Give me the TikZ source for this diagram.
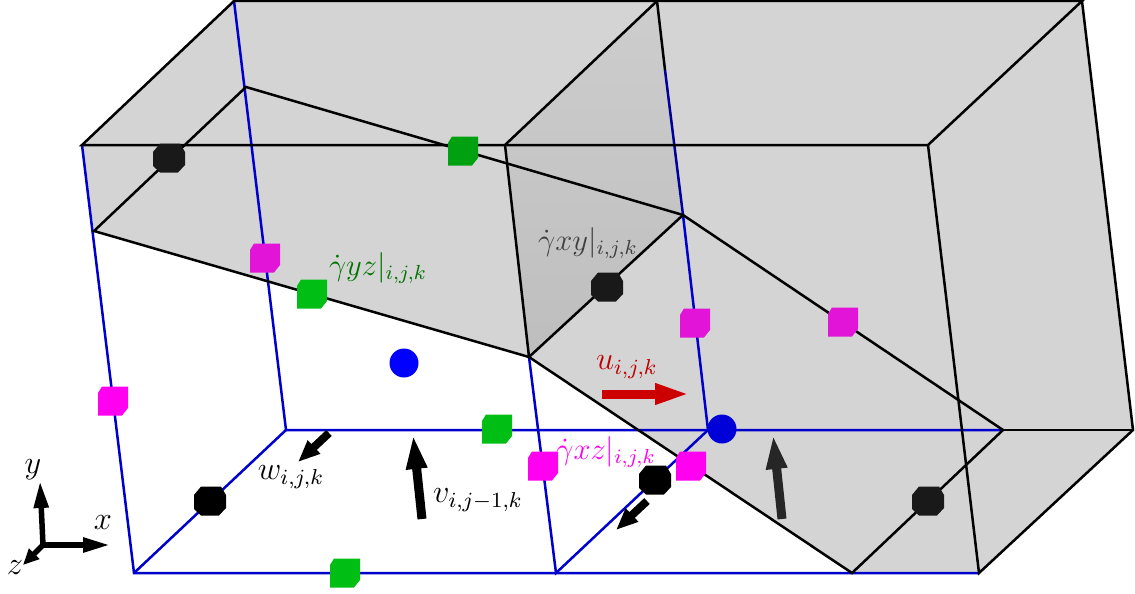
\documentclass[tikz,border=0pt]{standalone}
\usepackage{amsmath}
\usetikzlibrary{arrows.meta}
\tikzset{
  px/.style={x=1pt,y=-1pt},
  bl/.style={draw=blue!80!black,line width=2.5pt},
  bk/.style={draw=black,line width=2.5pt},
  vec/.style={line width=9pt,-{Triangle[length=35pt,width=19pt]}},
  small vec/.style={line width=8pt,-{Triangle[length=22pt,width=17pt]}},
  axis vec/.style={line width=5.5pt,-{Triangle[length=27pt,width=14pt]}},
  lab/.style={inner sep=0pt,font=\large,scale=2.7},
  glab/.style={inner sep=0pt,font=\large,scale=2.55},
  dot/.style={circle,minimum size=29pt,inner sep=0pt,draw=none}
}
\newcommand{\hexmark}[3]{\coordinate (#1) at #2;
  \fill[#3,shift={(#1)}] (-9,-14.5)--(11,-14.5)--(16,-6)--(16,7)--(9,14.5)--(-9,14.5)--(-16,8)--(-16,-6)--cycle;}
\newcommand{\sqmark}[3]{\coordinate (#1) at #2;
  \fill[#3,shift={(#1)}] (-11,-14.5)--(15,-14.5)--(15,7)--(9,14.5)--(-15,14.5)--(-15,-8)--cycle;}
\definecolor{gf}{RGB}{212,212,212}
\definecolor{gdt}{RGB}{205,205,205}
\definecolor{gdb}{RGB}{190,190,190}
\definecolor{mg}{RGB}{255,0,240}
\definecolor{mgd}{RGB}{225,20,215}
\definecolor{gn}{RGB}{0,190,20}
\begin{document}
\begin{tikzpicture}[px]
\useasboundingbox (0,0) rectangle (1135,594);
\fill[white] (0,0) rectangle (1135,594);
% corners
\coordinate (ftl) at (82,145); \coordinate (ftm) at (505,145); \coordinate (ftr) at (928,145);
\coordinate (btl) at (234,1); \coordinate (btm) at (657,1); \coordinate (btr) at (1082,1);
\coordinate (fbl) at (134,573); \coordinate (fbm) at (556,573); \coordinate (fbr) at (979,573);
\coordinate (bbl) at (286,430); \coordinate (bbm) at (708,430); \coordinate (bbr) at (1133,430);
\coordinate (s1) at (94,231); \coordinate (s2) at (529,357); \coordinate (s3) at (852,573);
\coordinate (t1) at (246,87); \coordinate (t2) at (683,215); \coordinate (t3) at (1003,430);
\coordinate (bm1) at (665,70);
% fills
\fill[gf] (ftl)--(btl)--(btr)--(bbr)--(fbr)--(s3)--(s2)--(s1)--cycle;
\shade[top color=gdt,bottom color=gdb] (ftm)--(btm)--(t2)--(s2)--cycle;
% blue
\draw[bl] (ftl)--(fbl)--(fbr);
\draw[bl] (btl)--(bbl)--(t3);
\draw[bl] (fbl)--(bbl);
\draw[bl] (s2)--(fbm)--(bbm);
\draw[bl] (t2)--(bbm);
\draw[bl,draw=blue!60!black] (bm1)--(t2);
% black
\draw[bk] (ftl)--(ftr)--(btr)--(btl)--cycle;
\draw[bk] (ftm)--(btm)--(bm1);
\draw[bk] (ftm)--(s2);
\draw[bk] (ftr)--(fbr)--(bbr)--(btr);
\draw[bk] (t3)--(bbr);
\draw[bk] (s1)--(s2)--(s3)--(t3)--(t2)--(t1)--cycle;
\draw[bk] (s2)--(t2);
% markers
\hexmark{m1}{(169,158)}{black!90}
\hexmark{m2}{(210,501)}{black}
\hexmark{m3}{(607,287)}{black!90}
\hexmark{m4}{(655,480)}{black}
\hexmark{m5}{(928,501)}{black!90}
\sqmark{g1}{(463,151)}{gn!85!black}
\sqmark{g2}{(312,294)}{gn}
\sqmark{g3}{(497,429)}{gn}
\sqmark{g4}{(345,573)}{gn}
\sqmark{p1}{(265,258)}{mgd}
\sqmark{p2}{(113,401)}{mg}
\sqmark{p3}{(543,466)}{mg}
\sqmark{p4}{(695,323)}{mgd}
\sqmark{p5}{(843,322)}{mgd}
\sqmark{p6}{(691,466)}{mg}
\node[dot,fill=blue] (d1) at (404,363) {};
\node[dot,fill=blue!85!black] (d2) at (722,429) {};
% vectors
\coordinate (w1) at (329,433); \coordinate (w2) at (298,462);
\draw[small vec] (w1)--(w2);
\coordinate (v1) at (422,519); \coordinate (v2) at (413,434);
\draw[vec] (v1)--(v2);
\coordinate (v3) at (782,519); \coordinate (v4) at (773,434);
\draw[vec,black!85] (v3)--(v4);
\coordinate (u1) at (602,394); \coordinate (u2) at (690,394);
\draw[vec,red!80!black] (u1)--(u2);
\coordinate (z1) at (647,501); \coordinate (z2) at (616,530);
\draw[small vec] (z1)--(z2);
% axes
\coordinate (o) at (43,545); \coordinate (ax) at (110,545); \coordinate (ay) at (40,481); \coordinate (az) at (23,565);
\draw[axis vec] (o)--(ax);
\draw[axis vec] (o)--(ay);
\draw[axis vec,-{Triangle[length=16pt,width=14pt]}] (o)--(az);
% labels
\node[lab] (ly) at (33,470) {$y$};
\node[lab] (lx) at (103,523) {$x$};
\node[lab] (lz) at (15,568) {$z$};
\node[lab] (lw) at (291,477) {$w_{i,j,k}$};
\node[lab] (lv) at (478,500) {$v_{i,j-1,k}$};
\node[lab,text=red!75!black] (lu) at (627,367) {$u_{i,j,k}$};
\node[glab,text=mg] (lxz) at (606,452) {$\dot\gamma xz|_{i,j,k}$};
\node[glab,text=black!75] (lxy) at (588,243) {$\dot\gamma xy|_{i,j,k}$};
\node[glab,text=green!45!black] (lyz) at (378,268) {$\dot\gamma yz|_{i,j,k}$};
\end{tikzpicture}
\end{document}
